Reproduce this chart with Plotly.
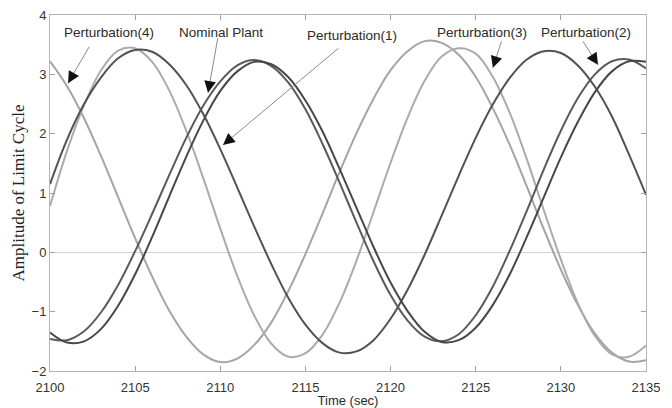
import plotly.graph_objects as go

# ---- data ----
time_s = list(range(2100, 2136))

nominal_plant = [-1.35, -1.52, -1.50, -1.29, -0.90, -0.37, 0.26, 0.94, 1.61, 2.22,
                 2.72, 3.05, 3.21, 3.17, 2.95, 2.56, 2.04, 1.41, 0.75, 0.09,
                 -0.51, -0.99, -1.34, -1.51, -1.48, -1.27, -0.89, -0.37, 0.26, 0.93,
                 1.60, 2.20, 2.70, 3.05, 3.22, 3.21]

perturbation_1 = [1.15, 1.90, 2.50, 2.95, 3.27, 3.41, 3.38, 3.17, 2.82, 2.33,
                  1.74, 1.09, 0.43, -0.20, -0.77, -1.22, -1.53, -1.69, -1.67, -1.48,
                  -1.12, -0.63, -0.04, 0.62, 1.29, 1.93, 2.49, 2.94, 3.25, 3.39,
                  3.36, 3.15, 2.79, 2.29, 1.65, 0.97]

perturbation_2 = [-1.46, -1.48, -1.33, -1.01, -0.55, 0.02, 0.65, 1.30, 1.93, 2.47,
                  2.88, 3.15, 3.24, 3.14, 2.86, 2.41, 1.83, 1.18, 0.50, -0.15,
                  -0.72, -1.15, -1.42, -1.50, -1.38, -1.06, -0.58, 0.03, 0.70, 1.40,
                  2.05, 2.60, 3.00, 3.22, 3.25, 3.10]

perturbation_3 = [0.78, 1.71, 2.48, 3.07, 3.40, 3.44, 3.21, 2.73, 2.05, 1.25,
                  0.40, -0.40, -1.07, -1.54, -1.76, -1.70, -1.39, -0.85, -0.14, 0.68,
                  1.51, 2.27, 2.89, 3.30, 3.44, 3.35, 2.96, 2.35, 1.57, 0.71,
                  -0.12, -0.86, -1.41, -1.72, -1.76, -1.57]

perturbation_4 = [3.22, 2.80, 2.26, 1.62, 0.93, 0.24, -0.41, -0.98, -1.42, -1.72,
                  -1.85, -1.79, -1.56, -1.18, -0.65, -0.03, 0.65, 1.35, 2.01, 2.59,
                  3.07, 3.39, 3.56, 3.53, 3.33, 2.96, 2.43, 1.81, 1.11, 0.39,
                  -0.29, -0.89, -1.37, -1.69, -1.84, -1.82]

series = [
    ("Perturbation(4)", perturbation_4, "#a4a4a4"),
    ("Perturbation(3)", perturbation_3, "#ababab"),
    ("Perturbation(1)", perturbation_1, "#525252"),
    ("Perturbation(2)", perturbation_2, "#5a5a5a"),
    ("Nominal Plant", nominal_plant, "#474747"),
]

# label: (text x, text y, arrow tip x, arrow tip y, tail dx px, tail dy px)
labels = [
    ("Perturbation(4)", 2103.46, 3.70, 2101.06, 2.85, 22, -38),
    ("Nominal Plant", 2110.04, 3.70, 2109.28, 2.69, 10, -56),
    ("Perturbation(1)", 2117.73, 3.66, 2110.16, 1.81, 117, -98),
    ("Perturbation(3)", 2125.37, 3.70, 2126.01, 3.11, 9, -28),
    ("Perturbation(2)", 2131.47, 3.70, 2132.18, 3.16, -16, -25),
]

fig = go.Figure()
for name, vals, col in series:
    fig.add_trace(go.Scatter(x=time_s, y=vals, mode="lines", name=name,
                             line=dict(color=col, width=2, shape="spline", smoothing=1)))

sans = "Liberation Sans, Arial, sans-serif"
annotations = []
for text, tx, ty, hx, hy, dx, dy in labels:
    annotations.append(dict(x=tx, y=ty, xref="x", yref="y", text=text, showarrow=False,
                            font=dict(family=sans, size=13.5, color="#2a2a2a")))
    # thin grey shaft
    annotations.append(dict(x=hx, y=hy, xref="x", yref="y", text="", showarrow=True,
                            ax=dx, ay=dy, arrowhead=0, arrowwidth=1, arrowcolor="#8a8a8a",
                            standoff=0))
    # black head
    L = (dx * dx + dy * dy) ** 0.5
    annotations.append(dict(x=hx, y=hy, xref="x", yref="y", text="", showarrow=True,
                            ax=dx / L * 9, ay=dy / L * 9, arrowhead=2, arrowsize=1.8,
                            arrowwidth=1.3, arrowcolor="#111111", standoff=0))

axis_common = dict(showline=True, linecolor="#b4b4b4", linewidth=1, mirror="ticks",
                   ticks="inside", ticklen=5, tickcolor="#a0a0a0", showgrid=False,
                   automargin=False,
                   tickfont=dict(family=sans, size=13, color="#333333"))

fig.update_layout(
    width=672, height=408,
    margin=dict(l=50, r=26, t=15, b=37),
    paper_bgcolor="white", plot_bgcolor="white",
    showlegend=False,
    annotations=annotations,
    xaxis=dict(range=[2100, 2135], tickvals=[2100, 2105, 2110, 2115, 2120, 2125, 2130, 2135],
               zeroline=False, ticklabelstandoff=4,
               title=dict(text="Time (sec)", font=dict(family=sans, size=13, color="#2a2a2a"),
                          standoff=2),
               **axis_common),
    yaxis=dict(range=[-2, 4], tickvals=[-2, -1, 0, 1, 2, 3, 4],
               zeroline=True, zerolinecolor="#d4d4d4", zerolinewidth=1,
               title=dict(text="Amplitude of Limit Cycle",
                          font=dict(family="Liberation Serif, Times New Roman, serif", size=17,
                                    color="#222222"),
                          standoff=2),
               **axis_common),
)

fig.write_html("out.html", config={"displayModeBar": False},
               post_script="document.body.style.margin='0px';")
